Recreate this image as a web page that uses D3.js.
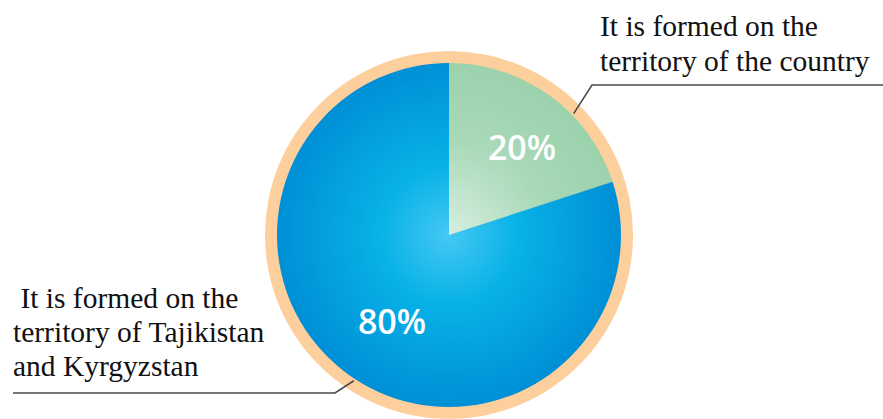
<!DOCTYPE html>
<html>
<head>
<meta charset="utf-8">
<script src="https://cdn.jsdelivr.net/npm/d3@7"></script>
<style>
  body { margin: 0; background: #fff; }
  svg { display: block; }
</style>
</head>
<body>
<div id="chart"></div>
<script>
// data
const categories = ['country', 'upstream'];
const values = [20, 80];
const pctLabels = ['20%', '80%'];
const labelLines = [
    ['It is formed on the', 'territory of the country'],
    [' It is formed on the', 'territory of Tajikistan', 'and Kyrgyzstan']
];

const svgWidth = 883;
const svgHeight = 419;
const cx = 449, cy = 235;
const radius = 172;
const ringWidth = 12;

function translate(x, y) {
    return 'translate(' + x + ',' + y + ')';
}

let svg = d3.select('#chart').append('svg')
    .attr('width', svgWidth)
    .attr('height', svgHeight);

let defs = svg.append('defs');

// blue gradient (centred on the pie, which sits in a translated group)
let gBlue = defs.append('radialGradient')
    .attr('id', 'gradBlue')
    .attr('gradientUnits', 'userSpaceOnUse')
    .attr('cx', 0).attr('cy', 0).attr('r', radius);
gBlue.append('stop').attr('offset', '0%').attr('stop-color', '#45c8f3');
gBlue.append('stop').attr('offset', '40%').attr('stop-color', '#08b2e7');
gBlue.append('stop').attr('offset', '100%').attr('stop-color', '#008fd6');

// green gradient
let gGreen = defs.append('radialGradient')
    .attr('id', 'gradGreen')
    .attr('gradientUnits', 'userSpaceOnUse')
    .attr('cx', 0).attr('cy', 0).attr('r', radius);
gGreen.append('stop').attr('offset', '0%').attr('stop-color', '#d6eedf');
gGreen.append('stop').attr('offset', '55%').attr('stop-color', '#a9d9b8');
gGreen.append('stop').attr('offset', '100%').attr('stop-color', '#9bd2ac');

const fills = ['url(#gradGreen)', 'url(#gradBlue)'];

let pie = d3.pie().sort(null).value(d => d)(values);
let arc = d3.arc().innerRadius(0).outerRadius(radius);

let chart = svg.append('g').attr('transform', translate(cx, cy));

// orange ring
chart.append('circle')
    .attr('r', radius + ringWidth)
    .attr('fill', '#fdcf9d');

chart.selectAll('path.slice').data(pie).enter()
    .append('path')
    .attr('class', 'slice')
    .attr('d', arc)
    .attr('fill', (d, i) => fills[i]);

// percent labels
const labelPos = [[73, -88], [-57, 86]];
chart.selectAll('text.pct').data(pie).enter()
    .append('text')
    .attr('class', 'pct')
    .attr('x', (d, i) => labelPos[i][0])
    .attr('y', (d, i) => labelPos[i][1])
    .attr('text-anchor', 'middle')
    .attr('dominant-baseline', 'central')
    .style('font-family', '"Open Sans", sans-serif')
    .style('font-weight', 600)
    .style('font-size', '34px')
    .style('fill', '#fff')
    .text((d, i) => pctLabels[i]);

// leader lines
const angleShift = [0.17, -0.05];
const elbow = [[592, 85, 883], [335, 393, 13]];
pie.forEach((d, i) => {
    let a = (d.startAngle + d.endAngle) / 2 + angleShift[i];
    let r0 = radius + 2;
    let x0 = cx + r0 * Math.sin(a), y0 = cy - r0 * Math.cos(a);
    svg.append('path')
        .attr('d', d3.line()([[x0, y0], [elbow[i][0], elbow[i][1]], [elbow[i][2], elbow[i][1]]]))
        .attr('fill', 'none')
        .attr('stroke', '#4a4a4a')
        .attr('stroke-width', 1.6);
});

// category texts
const textAt = [[600, 36, 35], [13, 308, 34]];
labelLines.forEach((lines, i) => {
    let t = svg.append('text')
        .attr('x', textAt[i][0])
        .attr('y', textAt[i][1])
        .style('font-family', '"Liberation Serif", "Times New Roman", serif')
        .style('font-size', '29.5px')
        .style('fill', '#111')
        .style('white-space', 'pre');
    lines.forEach((l, j) => {
        t.append('tspan')
            .attr('x', textAt[i][0])
            .attr('y', textAt[i][1] + j * textAt[i][2])
            .text(l);
    });
});
</script>
</body>
</html>
